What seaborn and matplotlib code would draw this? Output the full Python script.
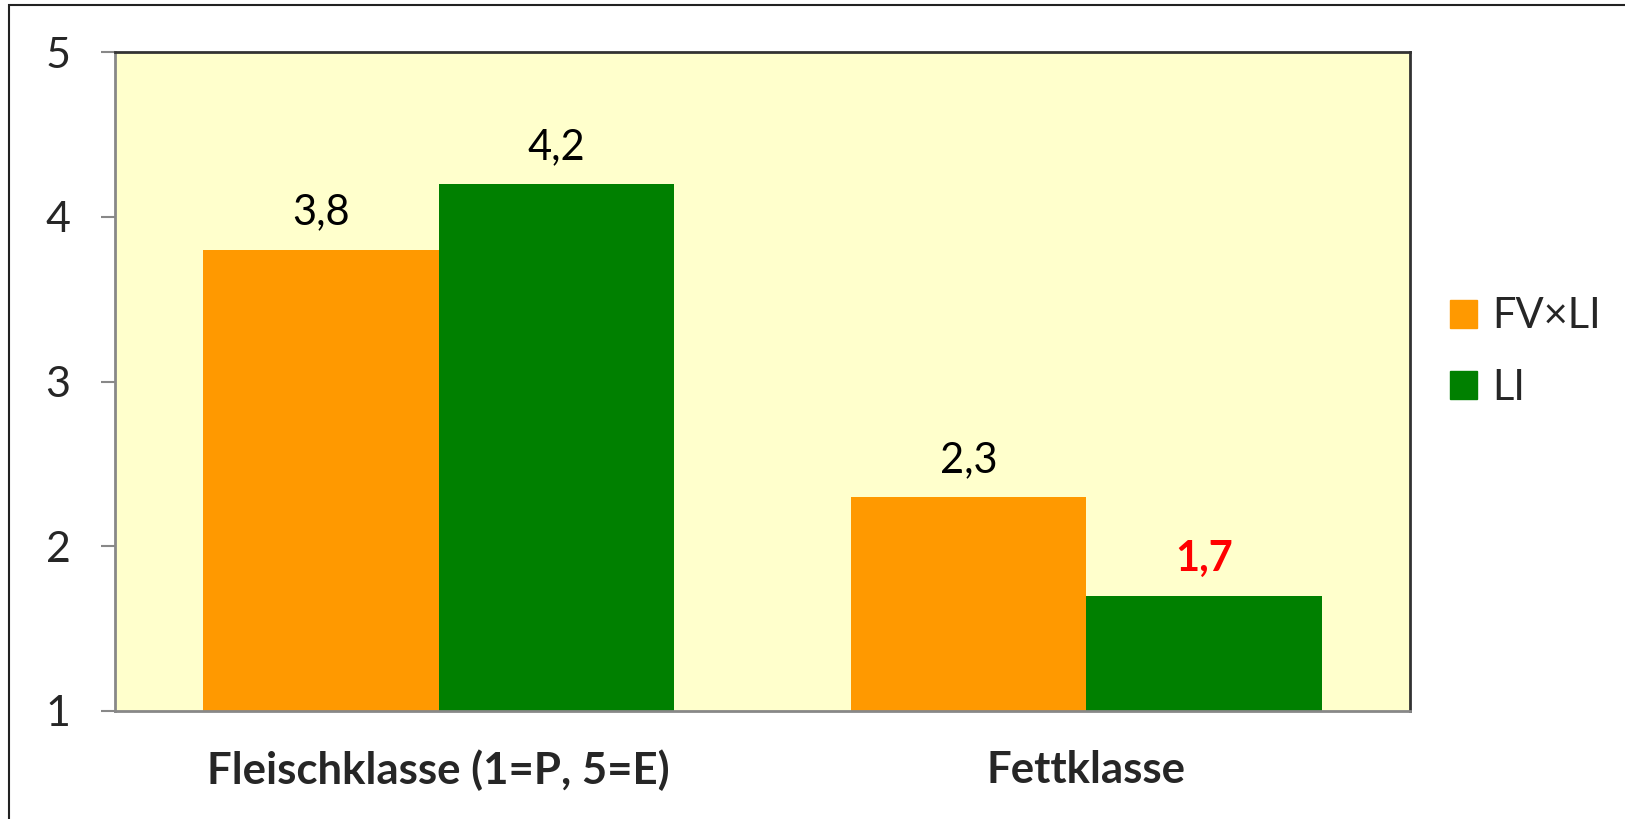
import pandas as pd
import seaborn as sns
import matplotlib.pyplot as plt
from matplotlib.patches import Rectangle

# data
categories = ['Fleischklasse (1=P, 5=E)', 'Fettklasse']
series = ['FV×LI', 'LI']
fvli = [3.8, 2.3]
li = [4.2, 1.7]
colors = ['#FF9900', '#008000']

df = pd.DataFrame({
    'Klasse': categories * 2,
    'Gruppe': [series[0]] * 2 + [series[1]] * 2,
    'Wert': fvli + li,
})

sns.set_theme(style='white')
plt.rcParams['font.family'] = ['Lato', 'DejaVu Sans']

fig = plt.figure(figsize=(16.25, 8.19), dpi=100)
ax = fig.add_axes([115 / 1625, 1 - 711 / 819, 1295 / 1625, 659 / 819])
ax.set_facecolor('#FFFFCC')

sns.barplot(data=df, x='Klasse', y='Wert', hue='Gruppe', palette=colors,
            width=0.728, gap=0, linewidth=0, saturation=1, ax=ax)

ax.set_ylim(1, 5)
ax.set_xlim(-0.5, 1.5)
ax.set_yticks([1, 2, 3, 4, 5])
ax.set_xlabel('')
ax.set_ylabel('')
ax.tick_params(axis='y', which='major', length=10, width=1.5, color='#888888',
               direction='out', left=True, pad=22, labelsize=31)
ax.tick_params(axis='x', length=0, pad=28, labelsize=31.5)
for lab in ax.get_xticklabels():
    lab.set_fontweight('bold')

for side in ['left', 'bottom']:
    ax.spines[side].set_color('#888888')
    ax.spines[side].set_linewidth(2)
for side in ['top', 'right']:
    ax.spines[side].set_color('#333333')
    ax.spines[side].set_linewidth(2)

# value labels
for i, cont in enumerate(ax.containers):
    for j, bar in enumerate(cont):
        val = bar.get_height()
        red = (i == 1 and j == 1)
        ax.annotate(f'{val:.1f}'.replace('.', ','),
                    (bar.get_x() + bar.get_width() / 2, val),
                    xytext=(0, 18), textcoords='offset points',
                    ha='center', va='baseline', fontsize=30,
                    color='#FF0000' if red else 'black',
                    fontweight='bold' if red else 'normal')

ax.get_legend().remove()
handles = [plt.Rectangle((0, 0), 1, 1, color=c) for c in colors]
fig.legend(handles, series, loc='center left', bbox_to_anchor=(1450 / 1625, 1 - 352 / 819),
           frameon=False, fontsize=30, borderpad=0, borderaxespad=0,
           handlelength=0.65, handleheight=0.65, handletextpad=0.36, labelspacing=0.8)

# outer frame (cropped at right and bottom)
fig.patches.append(Rectangle((9 / 1625, -0.1), 1.2, 1.1 - 5 / 819,
                             transform=fig.transFigure, fill=False,
                             edgecolor='#222222', linewidth=1.5))

fig.savefig('out.png', dpi=100)
